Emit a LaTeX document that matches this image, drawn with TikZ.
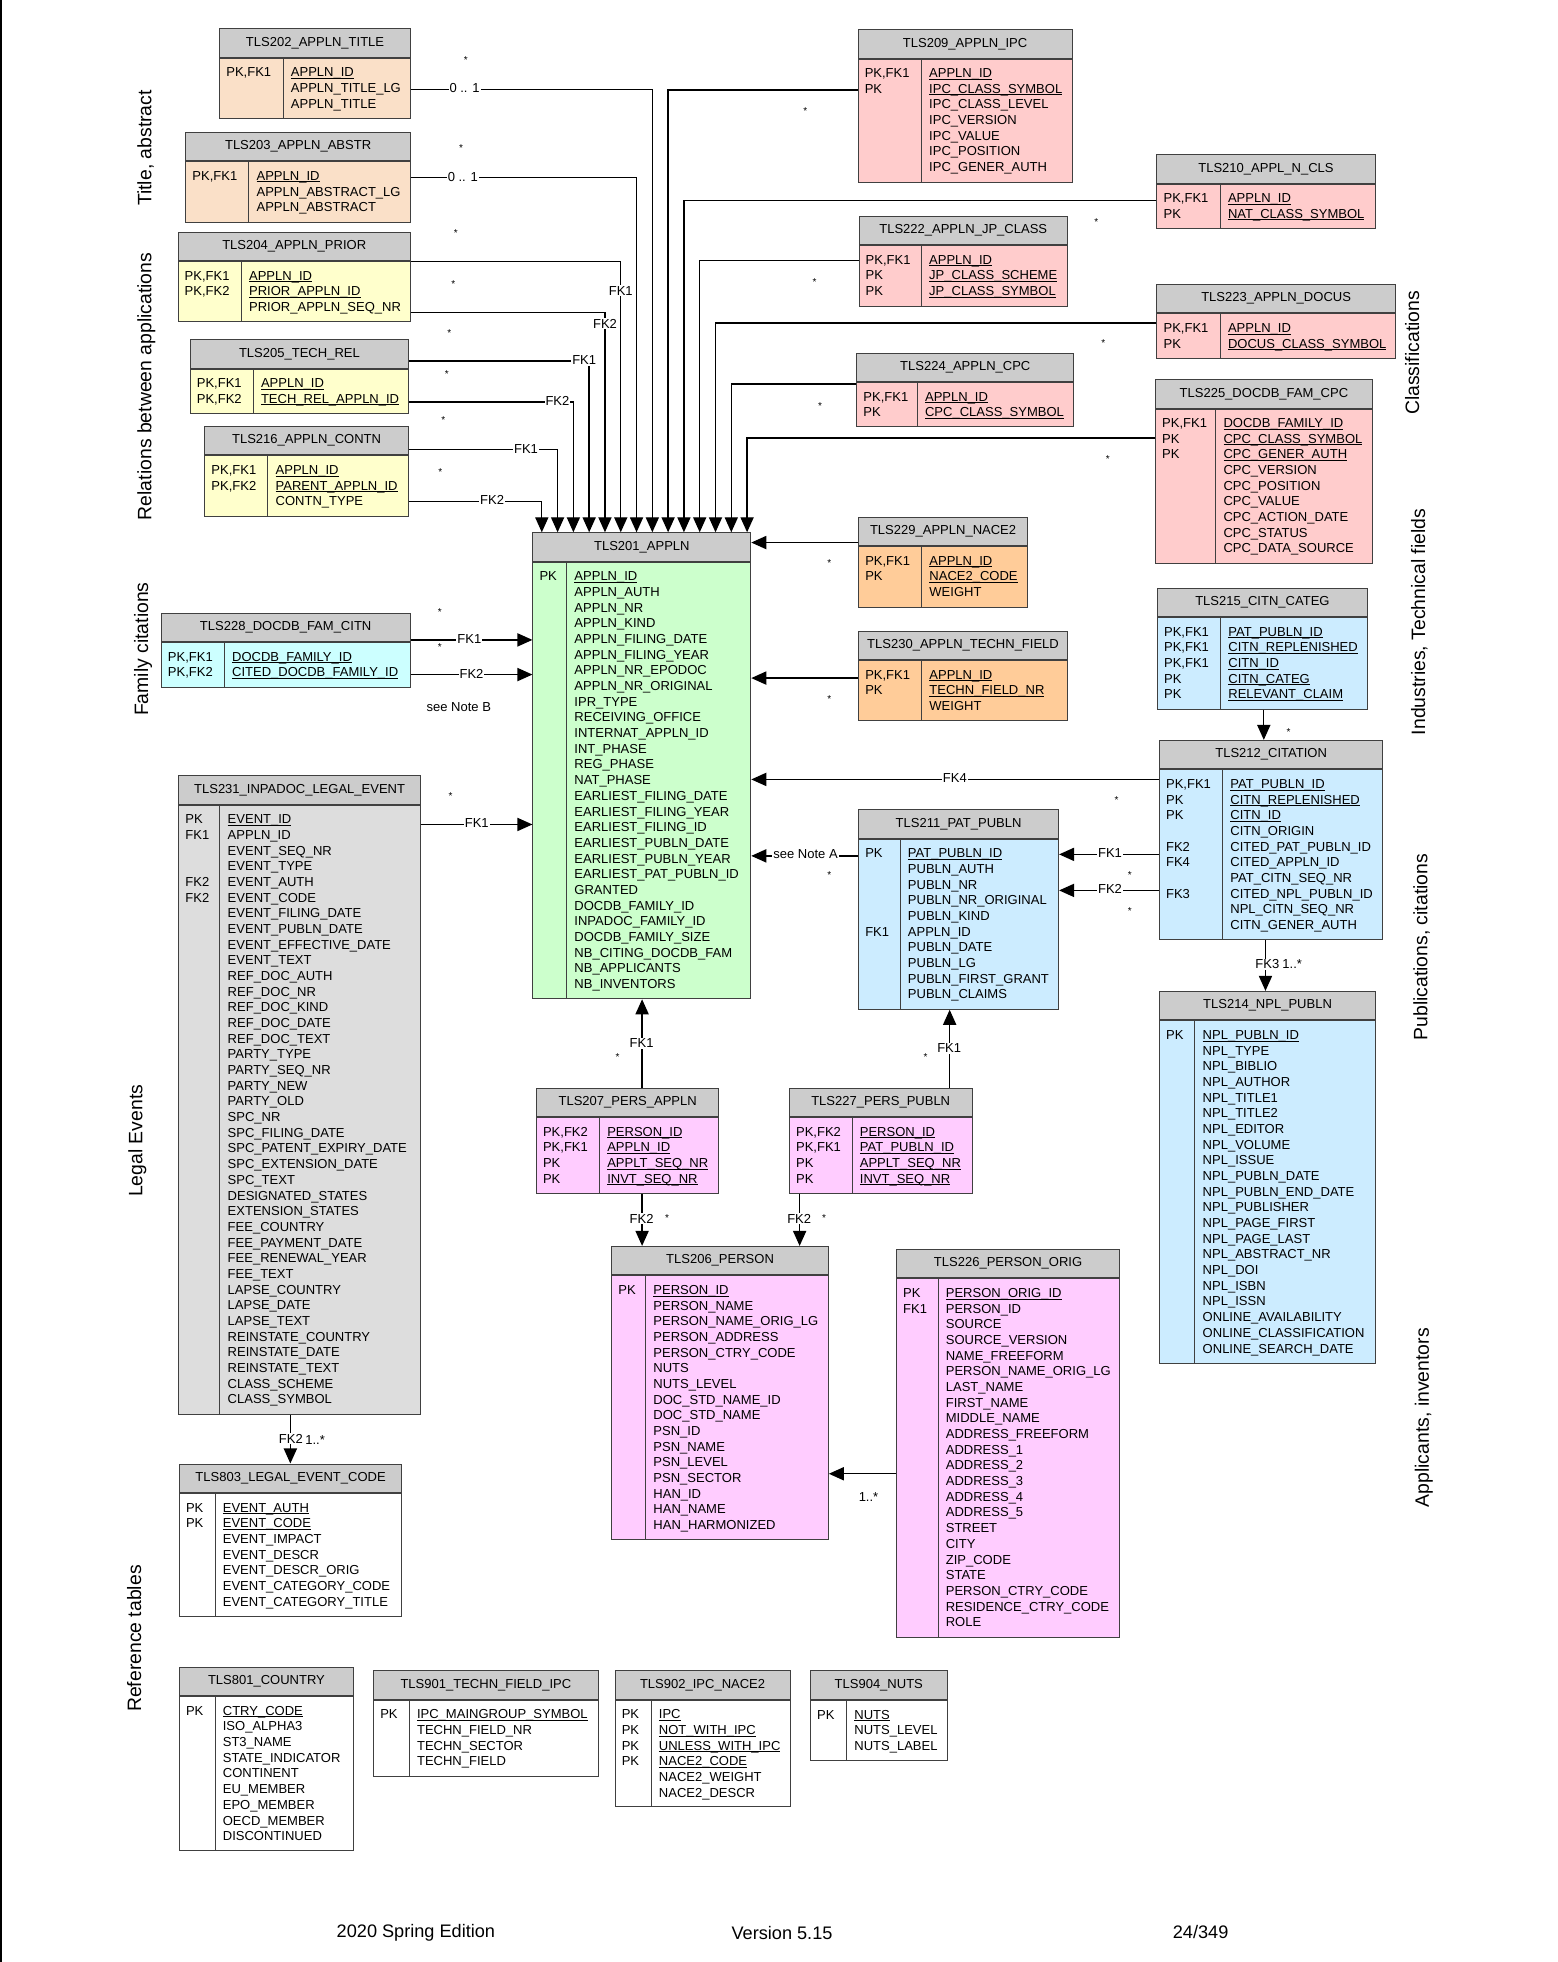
\documentclass[tikz,border=0pt]{standalone}
\usepackage{fontspec}
\setmainfont{Liberation Sans}
\usetikzlibrary{arrows.meta}

\definecolor{hdrgray}{RGB}{204,204,204}
\definecolor{peach}{RGB}{250,224,200}
\definecolor{relyellow}{RGB}{255,255,204}
\definecolor{clspink}{RGB}{255,204,204}
\definecolor{indorange}{RGB}{255,204,153}
\definecolor{applgreen}{RGB}{204,255,204}
\definecolor{famcyan}{RGB}{204,255,255}
\definecolor{pubblue}{RGB}{204,236,255}
\definecolor{perspink}{RGB}{255,204,255}
\definecolor{legalgray}{RGB}{221,221,221}

\newcommand\tblfont{\fontsize{10.4}{12.53}\selectfont}
\newcommand\rs{\rule{0pt}{8pt}}
\newcommand\pk[1]{\setbox0\hbox{#1}\rlap{\rule[-1.4pt]{\wd0}{0.55pt}}\box0}
% name, position, width, body height, divider, fill, title, keys, fields
\newcommand\tbl[9]{%
  \node[tblhead, minimum width=#3pt] (#1) at #2 {#7};
  \node[tblbody, fill=#6, minimum width=#3pt, minimum height=#4pt] (#1-b) at (#1.south west) {};
  \draw[tblline] ([xshift=#5pt]#1-b.north west) -- ([xshift=#5pt]#1-b.south west);
  \node[rowtxt] (#1-k) at ([xshift=5.5pt,yshift=-7pt]#1-b.north west) {\rs#8};
  \node[rowtxt] (#1-f) at ([xshift=#5pt+6pt,yshift=-7pt]#1-b.north west) {\rs#9};
}

\begin{document}
\begin{tikzpicture}[x=1pt, y=-1pt,
    tblline/.style={draw=black!75, line width=0.8pt},
    tblhead/.style={tblline, fill=hdrgray, minimum height=22.8pt, inner sep=0pt, anchor=north west, font=\tblfont},
    tblbody/.style={tblline, inner sep=0pt, anchor=north west},
    rowtxt/.style={anchor=north west, align=left, inner sep=0pt, font=\tblfont},
    fk/.style={line width=1.1pt, -{Triangle[length=12pt, width=10.5pt]}},
    lbl/.style={fill=white, inner sep=0.8pt, font=\tblfont},
    note/.style={inner sep=0pt, font=\tblfont},
    star/.style={inner sep=0pt, font=\fontsize{8}{8}\selectfont},
    side/.style={rotate=90, inner sep=0pt, font=\fontsize{15.5}{18}\selectfont},
    foot/.style={inner sep=0pt, font=\fontsize{14.5}{17}\selectfont}]
  \useasboundingbox (0,0) rectangle (1245,1568);
  \draw[line width=1.6pt] (0.8,0) -- (0.8,1568);

  \tbl{t202}{(175.2,22.6)}{152.4}{48.2}{51.1}{peach}{TLS202\_APPLN\_TITLE}{PK,FK1}{\pk{APPLN\_ID}\\APPLN\_TITLE\_LG\\APPLN\_TITLE}
  \tbl{t203}{(148.1,105.4)}{179.5}{48.2}{50.8}{peach}{TLS203\_APPLN\_ABSTR}{PK,FK1}{\pk{APPLN\_ID}\\APPLN\_ABSTRACT\_LG\\APPLN\_ABSTRACT}
  \tbl{t204}{(141.9,185.2)}{185.7}{47.6}{51}{relyellow}{TLS204\_APPLN\_PRIOR}{PK,FK1\\PK,FK2}{\pk{APPLN\_ID}\\\pk{PRIOR\_APPLN\_ID}\\PRIOR\_APPLN\_SEQ\_NR}
  \tbl{t205}{(151.6,271)}{174.6}{35.5}{50.8}{relyellow}{TLS205\_TECH\_REL}{PK,FK1\\PK,FK2}{\pk{APPLN\_ID}\\\pk{TECH\_REL\_APPLN\_ID}}
  \tbl{t216}{(163.3,340.4)}{162.6}{48.2}{50.8}{relyellow}{TLS216\_APPLN\_CONTN}{PK,FK1\\PK,FK2}{\pk{APPLN\_ID}\\\pk{PARENT\_APPLN\_ID}\\CONTN\_TYPE}
  \tbl{t228}{(128.5,489.6)}{198.8}{35.5}{50.8}{famcyan}{TLS228\_DOCDB\_FAM\_CITN}{PK,FK1\\PK,FK2}{\pk{DOCDB\_FAMILY\_ID}\\\pk{CITED\_DOCDB\_FAMILY\_ID}}
  \tbl{t201}{(425.5,425.4)}{174.1}{348.8}{27.4}{applgreen}{TLS201\_APPLN}{PK}{\pk{APPLN\_ID}\\APPLN\_AUTH\\APPLN\_NR\\APPLN\_KIND\\APPLN\_FILING\_DATE\\APPLN\_FILING\_YEAR\\APPLN\_NR\_EPODOC\\APPLN\_NR\_ORIGINAL\\IPR\_TYPE\\RECEIVING\_OFFICE\\INTERNAT\_APPLN\_ID\\INT\_PHASE\\REG\_PHASE\\NAT\_PHASE\\EARLIEST\_FILING\_DATE\\EARLIEST\_FILING\_YEAR\\EARLIEST\_FILING\_ID\\EARLIEST\_PUBLN\_DATE\\EARLIEST\_PUBLN\_YEAR\\EARLIEST\_PAT\_PUBLN\_ID\\GRANTED\\DOCDB\_FAMILY\_ID\\INPADOC\_FAMILY\_ID\\DOCDB\_FAMILY\_SIZE\\NB\_CITING\_DOCDB\_FAM\\NB\_APPLICANTS\\NB\_INVENTORS}
  \tbl{t231}{(142.5,619.5)}{193.1}{486.7}{33.3}{legalgray}{TLS231\_INPADOC\_LEGAL\_EVENT}{PK\\FK1\\\mbox{}\\\mbox{}\\FK2\\FK2}{\pk{EVENT\_ID}\\APPLN\_ID\\EVENT\_SEQ\_NR\\EVENT\_TYPE\\EVENT\_AUTH\\EVENT\_CODE\\EVENT\_FILING\_DATE\\EVENT\_PUBLN\_DATE\\EVENT\_EFFECTIVE\_DATE\\EVENT\_TEXT\\REF\_DOC\_AUTH\\REF\_DOC\_NR\\REF\_DOC\_KIND\\REF\_DOC\_DATE\\REF\_DOC\_TEXT\\PARTY\_TYPE\\PARTY\_SEQ\_NR\\PARTY\_NEW\\PARTY\_OLD\\SPC\_NR\\SPC\_FILING\_DATE\\SPC\_PATENT\_EXPIRY\_DATE\\SPC\_EXTENSION\_DATE\\SPC\_TEXT\\DESIGNATED\_STATES\\EXTENSION\_STATES\\FEE\_COUNTRY\\FEE\_PAYMENT\_DATE\\FEE\_RENEWAL\_YEAR\\FEE\_TEXT\\LAPSE\_COUNTRY\\LAPSE\_DATE\\LAPSE\_TEXT\\REINSTATE\_COUNTRY\\REINSTATE\_DATE\\REINSTATE\_TEXT\\CLASS\_SCHEME\\CLASS\_SYMBOL}
  \tbl{t803}{(143,1169.6)}{177.7}{98.2}{28.9}{white}{TLS803\_LEGAL\_EVENT\_CODE}{PK\\PK}{\pk{EVENT\_AUTH}\\\pk{EVENT\_CODE}\\EVENT\_IMPACT\\EVENT\_DESCR\\EVENT\_DESCR\_ORIG\\EVENT\_CATEGORY\_CODE\\EVENT\_CATEGORY\_TITLE}
  \tbl{t801}{(143,1332)}{139.1}{122.7}{28.9}{white}{TLS801\_COUNTRY}{PK}{\pk{CTRY\_CODE}\\ISO\_ALPHA3\\ST3\_NAME\\STATE\_INDICATOR\\CONTINENT\\EU\_MEMBER\\EPO\_MEMBER\\OECD\_MEMBER\\DISCONTINUED}
  \tbl{t901}{(298.2,1334.8)}{179.4}{60.6}{28.9}{white}{TLS901\_TECHN\_FIELD\_IPC}{PK}{\pk{IPC\_MAINGROUP\_SYMBOL}\\TECHN\_FIELD\_NR\\TECHN\_SECTOR\\TECHN\_FIELD}
  \tbl{t902}{(491.2,1334.8)}{139.8}{85.3}{29.2}{white}{TLS902\_IPC\_NACE2}{PK\\PK\\PK\\PK}{\pk{IPC}\\\pk{NOT\_WITH\_IPC}\\\pk{UNLESS\_WITH\_IPC}\\\pk{NACE2\_CODE}\\NACE2\_WEIGHT\\NACE2\_DESCR}
  \tbl{t904}{(647.3,1335)}{109.2}{48}{29.3}{white}{TLS904\_NUTS}{PK}{\pk{NUTS}\\NUTS\_LEVEL\\NUTS\_LABEL}
  \tbl{t209}{(685.4,23.2)}{171}{98.3}{51}{clspink}{TLS209\_APPLN\_IPC}{PK,FK1\\PK}{\pk{APPLN\_ID}\\\pk{IPC\_CLASS\_SYMBOL}\\IPC\_CLASS\_LEVEL\\IPC\_VERSION\\IPC\_VALUE\\IPC\_POSITION\\IPC\_GENER\_AUTH}
  \tbl{t210}{(924.2,123.1)}{174.3}{35.4}{51}{clspink}{TLS210\_APPL\_N\_CLS}{PK,FK1\\PK}{\pk{APPLN\_ID}\\\pk{NAT\_CLASS\_SYMBOL}}
  \tbl{t222}{(686.1,172.3)}{166.6}{48.4}{50.3}{clspink}{TLS222\_APPLN\_JP\_CLASS}{PK,FK1\\PK\\PK}{\pk{APPLN\_ID}\\\pk{JP\_CLASS\_SCHEME}\\\pk{JP\_CLASS\_SYMBOL}}
  \tbl{t223}{(924.2,226.9)}{190.5}{35.4}{51}{clspink}{TLS223\_APPLN\_DOCUS}{PK,FK1\\PK}{\pk{APPLN\_ID}\\\pk{DOCUS\_CLASS\_SYMBOL}}
  \tbl{t224}{(684.3,281.8)}{173.5}{35.4}{48.8}{clspink}{TLS224\_APPLN\_CPC}{PK,FK1\\PK}{\pk{APPLN\_ID}\\\pk{CPC\_CLASS\_SYMBOL}}
  \tbl{t225}{(923.1,302.9)}{173.2}{123.6}{48.5}{clspink}{TLS225\_DOCDB\_FAM\_CPC}{PK,FK1\\PK\\PK}{\pk{DOCDB\_FAMILY\_ID}\\\pk{CPC\_CLASS\_SYMBOL}\\\pk{CPC\_GENER\_AUTH}\\CPC\_VERSION\\CPC\_POSITION\\CPC\_VALUE\\CPC\_ACTION\_DATE\\CPC\_STATUS\\CPC\_DATA\_SOURCE}
  \tbl{t229}{(685.8,412.9)}{135}{48.5}{50.8}{indorange}{TLS229\_APPLN\_NACE2}{PK,FK1\\PK}{\pk{APPLN\_ID}\\\pk{NACE2\_CODE}\\WEIGHT}
  \tbl{t230}{(685.8,504)}{166.9}{47.9}{50.8}{indorange}{TLS230\_APPLN\_TECHN\_FIELD}{PK,FK1\\PK}{\pk{APPLN\_ID}\\\pk{TECHN\_FIELD\_NR}\\WEIGHT}
  \tbl{t215}{(924.6,469.6)}{167.8}{73.2}{50.9}{pubblue}{TLS215\_CITN\_CATEG}{PK,FK1\\PK,FK1\\PK,FK1\\PK\\PK}{\pk{PAT\_PUBLN\_ID}\\\pk{CITN\_REPLENISHED}\\\pk{CITN\_ID}\\\pk{CITN\_CATEG}\\\pk{RELEVANT\_CLAIM}}
  \tbl{t212}{(926.2,591.3)}{178.5}{135.8}{50.9}{pubblue}{TLS212\_CITATION}{PK,FK1\\PK\\PK\\\mbox{}\\FK2\\FK4\\\mbox{}\\FK3}{\pk{PAT\_PUBLN\_ID}\\\pk{CITN\_REPLENISHED}\\\pk{CITN\_ID}\\CITN\_ORIGIN\\CITED\_PAT\_PUBLN\_ID\\CITED\_APPLN\_ID\\PAT\_CITN\_SEQ\_NR\\CITED\_NPL\_PUBLN\_ID\\NPL\_CITN\_SEQ\_NR\\CITN\_GENER\_AUTH}
  \tbl{t211}{(685.8,646.8)}{159.8}{135.8}{33.6}{pubblue}{TLS211\_PAT\_PUBLN}{PK\\\mbox{}\\\mbox{}\\\mbox{}\\\mbox{}\\FK1}{\pk{PAT\_PUBLN\_ID}\\PUBLN\_AUTH\\PUBLN\_NR\\PUBLN\_NR\_ORIGINAL\\PUBLN\_KIND\\APPLN\_ID\\PUBLN\_DATE\\PUBLN\_LG\\PUBLN\_FIRST\_GRANT\\PUBLN\_CLAIMS}
  \tbl{t214}{(926.2,791.9)}{172.8}{273.6}{28.8}{pubblue}{TLS214\_NPL\_PUBLN}{PK}{\pk{NPL\_PUBLN\_ID}\\NPL\_TYPE\\NPL\_BIBLIO\\NPL\_AUTHOR\\NPL\_TITLE1\\NPL\_TITLE2\\NPL\_EDITOR\\NPL\_VOLUME\\NPL\_ISSUE\\NPL\_PUBLN\_DATE\\NPL\_PUBLN\_END\_DATE\\NPL\_PUBLISHER\\NPL\_PAGE\_FIRST\\NPL\_PAGE\_LAST\\NPL\_ABSTRACT\_NR\\NPL\_DOI\\NPL\_ISBN\\NPL\_ISSN\\ONLINE\_AVAILABILITY\\ONLINE\_CLASSIFICATION\\ONLINE\_SEARCH\_DATE}
  \tbl{t207}{(428.3,869.2)}{145.9}{60.5}{50.8}{perspink}{TLS207\_PERS\_APPLN}{PK,FK2\\PK,FK1\\PK\\PK}{\pk{PERSON\_ID}\\\pk{APPLN\_ID}\\\pk{APPLT\_SEQ\_NR}\\\pk{INVT\_SEQ\_NR}}
  \tbl{t227}{(630.5,869.2)}{145.9}{60.5}{50.5}{perspink}{TLS227\_PERS\_PUBLN}{PK,FK2\\PK,FK1\\PK\\PK}{\pk{PERSON\_ID}\\\pk{PAT\_PUBLN\_ID}\\\pk{APPLT\_SEQ\_NR}\\\pk{INVT\_SEQ\_NR}}
  \tbl{t206}{(488.5,995.7)}{173.1}{211}{27.5}{perspink}{TLS206\_PERSON}{PK}{\pk{PERSON\_ID}\\PERSON\_NAME\\PERSON\_NAME\_ORIG\_LG\\PERSON\_ADDRESS\\PERSON\_CTRY\_CODE\\NUTS\\NUTS\_LEVEL\\DOC\_STD\_NAME\_ID\\DOC\_STD\_NAME\\PSN\_ID\\PSN\_NAME\\PSN\_LEVEL\\PSN\_SECTOR\\HAN\_ID\\HAN\_NAME\\HAN\_HARMONIZED}
  \tbl{t226}{(716.1,998.1)}{178.3}{286.4}{33.6}{perspink}{TLS226\_PERSON\_ORIG}{PK\\FK1}{\pk{PERSON\_ORIG\_ID}\\PERSON\_ID\\SOURCE\\SOURCE\_VERSION\\NAME\_FREEFORM\\PERSON\_NAME\_ORIG\_LG\\LAST\_NAME\\FIRST\_NAME\\MIDDLE\_NAME\\ADDRESS\_FREEFORM\\ADDRESS\_1\\ADDRESS\_2\\ADDRESS\_3\\ADDRESS\_4\\ADDRESS\_5\\STREET\\CITY\\ZIP\_CODE\\STATE\\PERSON\_CTRY\_CODE\\RESIDENCE\_CTRY\_CODE\\ROLE}

  \foreach \i in {0,...,13}
    \coordinate (in\i) at ([xshift=7.5pt+12.62pt*\i]t201.north west);

  \draw[fk] ([yshift=-25.3pt]t202-b.north east) -| (in7);
  \draw[fk] ([yshift=-12.7pt]t203-b.north east) -| (in6);
  \draw[fk] (t204-b.north east) -| (in5);
  \draw[fk] ([yshift=-40.7pt]t204-b.north east) -| (in4);
  \draw[fk] ([yshift=-5.7pt]t205.east) -| (in3);
  \draw[fk] ([yshift=-26.7pt]t205-b.north east) -| (in2);
  \draw[fk] ([yshift=-6.8pt]t216.east) -| (in1);
  \draw[fk] ([yshift=-36.6pt]t216-b.north east) -| (in0);
  \draw[fk] ([yshift=-25pt]t209-b.north west) -| (in8);
  \draw[fk] ([yshift=-13.3pt]t210-b.north west) -| (in9);
  \draw[fk] ([yshift=-12.5pt]t222-b.north west) -| (in10);
  \draw[fk] ([yshift=-7.5pt]t223-b.north west) -| (in11);
  \draw[fk] ([yshift=-1.6pt]t224-b.north west) -| (in12);
  \draw[fk] ([yshift=-23.4pt]t225-b.north west) -| (in13);

  \coordinate (p229) at ([yshift=-8.9pt]t229.west);
  \coordinate (p230) at ([yshift=-14.3pt]t230-b.north west);
  \coordinate (p212a) at ([yshift=-8pt]t212-b.north west);
  \coordinate (p211) at ([yshift=-13.6pt]t211-b.north west);
  \coordinate (p212b) at ([yshift=-67.9pt]t212-b.north west);
  \coordinate (p212c) at ([yshift=-96.7pt]t212-b.north west);
  \coordinate (p228a) at ([yshift=1.8pt]t228-b.north east);
  \coordinate (p228b) at ([yshift=-25.9pt]t228-b.north east);
  \coordinate (p231a) at ([yshift=-15.8pt]t231-b.north east);
  \coordinate (p207a) at ([xshift=11.5pt]t207.north);
  \coordinate (p227a) at ([xshift=55.1pt]t227.north);
  \coordinate (p207b) at ([xshift=11.5pt]t207-b.south);
  \coordinate (p227b) at ([xshift=-64.8pt]t227-b.south);
  \coordinate (p226) at ([yshift=-156.1pt]t226-b.north west);
  \coordinate (p231b) at ([xshift=-7.4pt]t231-b.south);
  \coordinate (p215) at ([xshift=1.1pt]t215-b.south);
  \coordinate (p212d) at ([xshift=-4.5pt]t212-b.south);

  \draw[fk] (p229) -- (p229 -| t201.east);
  \draw[fk] (p230) -- (p230 -| t201-b.east);
  \draw[fk] (p212a) -- (p212a -| t201-b.east);
  \draw[fk] (p211) -- (p211 -| t201-b.east);
  \draw[fk] (p212b) -- (p212b -| t211-b.east);
  \draw[fk] (p212c) -- (p212c -| t211-b.east);
  \draw[fk] (p228a) -- (p228a -| t201-b.west);
  \draw[fk] (p228b) -- (p228b -| t201-b.west);
  \draw[fk] (p231a) -- (p231a -| t201-b.west);
  \draw[fk] (p207a) -- (p207a |- t201-b.south);
  \draw[fk] (p227a) -- (p227a |- t211-b.south);
  \draw[fk] (p207b) -- (p207b |- t206.north);
  \draw[fk] (p227b) -- (p227b |- t206.north);
  \draw[fk] (p226) -- (p226 -| t206-b.east);
  \draw[fk] (p231b) -- (p231b |- t803.north);
  \draw[fk] (p215) -- (p215 |- t212.north);
  \draw[fk] (p212d) -- (p212d |- t214.north);

  \node[lbl] (l202) at (371.3,70.7) {0 .. 1};
  \node[lbl] (l203) at (369.9,141.2) {0 .. 1};
  \node[lbl] (l204a) at (496.1,232.5) {FK1};
  \node[lbl] (l204b) at (483.5,258.7) {FK2};
  \node[lbl] (l205a) at (466.9,288.1) {FK1};
  \node[lbl] (l205b) at (445.5,320.6) {FK2};
  \node[lbl] (l216a) at (420.4,358.6) {FK1};
  \node[lbl] (l216b) at (393.3,399.8) {FK2};
  \node[lbl] (l228a) at (375.1,510.9) {FK1};
  \node[lbl] (l228b) at (376.8,538.6) {FK2};
  \node[lbl] (l231a) at (381,657.8) {FK1};
  \node[lbl] (l212a) at (763.1,621.5) {FK4};
  \node[lbl] (l211) at (643.8,682.8) {see Note A};
  \node[lbl] (l212b) at (887.1,681.9) {FK1};
  \node[lbl] (l212c) at (887.1,710.7) {FK2};
  \node[lbl] (l207a) at (512.8,833.7) {FK1};
  \node[lbl] (l227a) at (758.6,837.7) {FK1};
  \node[lbl] (l207b) at (512.8,974.1) {FK2};
  \node[lbl] (l227b) at (638.7,974.1) {FK2};
  \node[lbl] (l231b) at (232.5,1149.8) {FK2};
  \node[lbl] (l212d) at (1012.8,770.6) {FK3};
  \node[note] (m231b) at (251.8,1151) {1..*};
  \node[note] (m212d) at (1032.7,770.6) {1..*};
  \node[note] (m226) at (694.1,1196) {1..*};
  \node[note] (nb) at (366.7,564.7) {see Note B};

  \foreach \sx/\sy [count=\k] in {372.2/48.2, 368.4/118.6, 364.2/186.3, 362.2/227, 359/266.1, 357/298.6,
      354.2/335.7, 351.9/377.5, 643.6/88.4, 876.2/177.1, 650.9/225.6, 881.7/274.4, 655.3/324.2,
      885.4/366.8, 662.7/450.2, 662.7/558.9, 892.4/639.3, 662.7/699.3, 903/699.2, 903/728,
      351.5/488.8, 351.5/517.5, 360/636.1, 1029.8/585.2, 493.5/844.4, 739.7/844.4, 533.2/973.6, 658.6/973.6}
    \node[star] (s\k) at (\sx,\sy) {*};

  \node[side] (g1) at (116.4,118.3) {Title, abstract};
  \node[side] (g2) at (117,308.8) {Relations between applications};
  \node[side] (g3) at (114.4,518.8) {Family citations};
  \node[side] (g4) at (109.8,911.7) {Legal Events};
  \node[side] (g5) at (107.3,1309.5) {Reference tables};
  \node[side] (g6) at (1128.5,282) {Classifications};
  \node[side] (g7) at (1134.3,497) {Industries, Technical fields};
  \node[side] (g8) at (1136,757) {Publications, citations};
  \node[side] (g9) at (1138,1133) {Applicants, inventors};

  \node[foot] (f1) at (332.4,1544.7) {2020 Spring Edition};
  \node[foot] (f2) at (625,1544.7) {Version 5.15};
  \node[foot] (f3) at (959.5,1544.4) {24/349};
\end{tikzpicture}
\end{document}
